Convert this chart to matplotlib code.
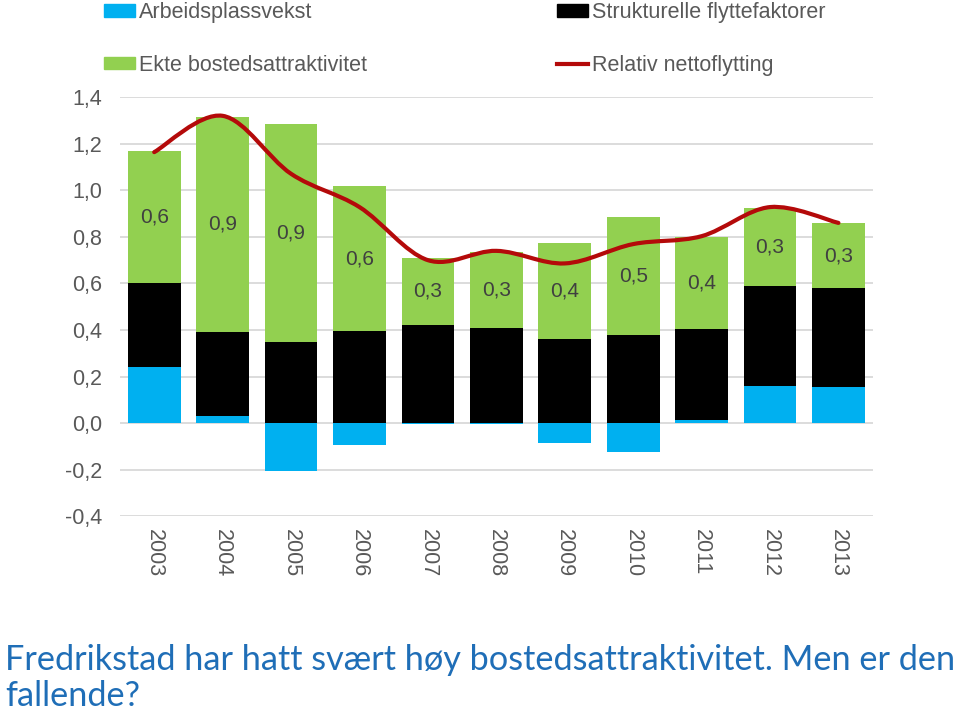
import matplotlib
matplotlib.use('Agg')
import matplotlib.pyplot as plt
from matplotlib.path import Path
from matplotlib.patches import PathPatch, Patch
from matplotlib.lines import Line2D
import numpy as np

# Data
years = ['2003', '2004', '2005', '2006', '2007', '2008', '2009', '2010', '2011', '2012', '2013']
arbeidsplassvekst = [0.24, 0.031, -0.207, -0.093, -0.004, -0.003, -0.086, -0.122, 0.014, 0.161, 0.157]
strukturelle = [0.363, 0.362, 0.347, 0.396, 0.423, 0.41, 0.363, 0.38, 0.392, 0.43, 0.423]
ekte_attraktivitet = [0.564, 0.924, 0.94, 0.621, 0.285, 0.326, 0.411, 0.507, 0.393, 0.332, 0.28]
relativ_nettoflytting = [1.164, 1.32, 1.071, 0.928, 0.70, 0.74, 0.686, 0.769, 0.803, 0.928, 0.86]
y_ticks = [-0.4, -0.2, 0.0, 0.2, 0.4, 0.6, 0.8, 1.0, 1.2, 1.4]

BLUE = '#00B0F0'
GREEN = '#92D050'
RED = '#B40A0A'
GREY = '#595959'

plt.rcParams['font.family'] = ['Liberation Sans', 'DejaVu Sans']


def smooth_path(xs, ys):
    '''Excel-like smoothed line as cubic bezier segments.'''
    pts = np.column_stack([xs, ys])
    verts = [pts[0]]
    codes = [Path.MOVETO]
    n = len(pts)
    for i in range(n - 1):
        p0 = pts[i - 1] if i > 0 else pts[i]
        p1 = pts[i]
        p2 = pts[i + 1]
        p3 = pts[i + 2] if i + 2 < n else pts[i + 1]
        c1 = p1 + (p2 - p0) / 6.0
        c2 = p2 - (p3 - p1) / 6.0
        verts += [c1, c2, p2]
        codes += [Path.CURVE4] * 3
    return Path(verts, codes)


fig = plt.figure(figsize=(9.6, 7.2), dpi=100)
ax = fig.add_axes([0.125, 0.283, 0.784, 0.582])

x = np.arange(len(years))
blue = np.array(arbeidsplassvekst)
black = np.array(strukturelle)
green = np.array(ekte_attraktivitet)

width = 0.77
black_bottom = np.clip(blue, 0, None)
green_bottom = black_bottom + black

ax.bar(x, blue, width, color=BLUE, zorder=2)
ax.bar(x, black, width, bottom=black_bottom, color='black', zorder=2)
ax.bar(x, green, width, bottom=green_bottom, color=GREEN, zorder=2)

for xi, gb, g in zip(x, green_bottom, green):
    ax.text(xi, gb + g / 2, f'{g:.1f}'.replace('.', ','), ha='center', va='center',
            fontsize=15, color='#404040', zorder=4)

line_path = smooth_path(x.astype(float), np.array(relativ_nettoflytting))
ax.add_patch(PathPatch(line_path, facecolor='none', edgecolor=RED, lw=3,
                       capstyle='round', zorder=3))

ax.set_xlim(-0.5, len(years) - 0.5)
ax.set_ylim(-0.4, 1.4)
ax.set_yticks(y_ticks)
ax.set_yticklabels([f'{v:.1f}'.replace('.', ',').replace('-0,0', '0,0') for v in y_ticks])
ax.set_xticks(x)
ax.set_xticklabels(years, rotation=-90)
ax.tick_params(axis='both', length=0, labelsize=15.5, colors=GREY)
ax.tick_params(axis='x', pad=9)
ax.tick_params(axis='y', pad=13)
ax.grid(axis='y', color='#D9D9D9', lw=1.3, zorder=0)
ax.set_axisbelow(True)
for s in ax.spines.values():
    s.set_visible(False)

handles = [
    Patch(color=BLUE, label='Arbeidsplassvekst'),
    Patch(color=GREEN, label='Ekte bostedsattraktivitet'),
    Patch(color='black', label='Strukturelle flyttefaktorer'),
    Line2D([], [], color=RED, lw=3, label='Relativ nettoflytting'),
]
fig.legend(handles=handles, ncol=2, loc='upper left', bbox_to_anchor=(0.088, 1.024),
           frameon=False, fontsize=15.5, labelcolor=GREY, handlelength=1.45,
           handleheight=0.5, handletextpad=0.2, labelspacing=1.46, columnspacing=8.8)

fig.text(0.005, 0.106, 'Fredrikstad har hatt svært høy bostedsattraktivitet. Men er den\nfallende?',
         fontsize=24.7, color='#1F6EB7', family=['Lato', 'DejaVu Sans'],
         ha='left', va='top', linespacing=1.18)

fig.savefig('out.png', dpi=100)
